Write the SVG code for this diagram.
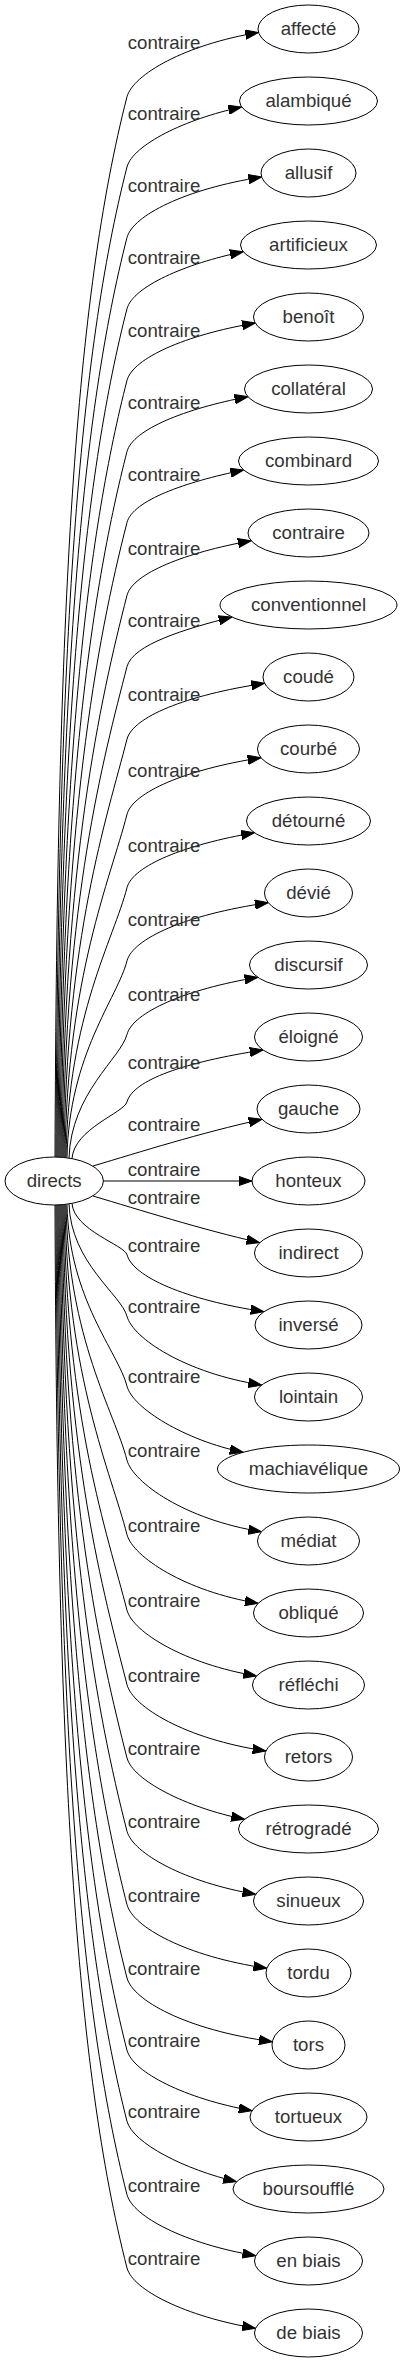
<svg xmlns="http://www.w3.org/2000/svg" width="404" height="2363" viewBox="0 0 404 2363">
<style>
.n ellipse{fill:#fff;stroke:#000;stroke-width:1}
text{font-family:"Liberation Sans",Arial,sans-serif;font-size:18.67px;fill:#333;text-anchor:middle}
#edges path{fill:none;stroke:#000;stroke-width:1;marker-end:url(#ah)}
</style>
<defs>
<marker id="ah" markerUnits="userSpaceOnUse" viewBox="0 -5 14 10" markerWidth="14" markerHeight="10" refX="13.3" refY="0" orient="auto">
<path d="M0,-4.67 L13.3,0 L0,4.67 Z" fill="#000" stroke="#000" stroke-width="1"/>
</marker>
</defs>
<rect width="404" height="2363" fill="#fff"/>
<g id="edges">
<path d="M55,1157.5 C57,600.6 75.4,298.3 127,96.7 C133,74.7 185,44.5 258.5,32.5"/>
<path d="M56,1157.5 C58,637.4 78.9,355.1 127,166.9 C133,144.9 185,119 241.7,107"/>
<path d="M57,1157.5 C59,674.5 82.3,412.3 127,237.5 C133,215.5 185,189 261.7,177"/>
<path d="M58,1157.5 C60,711.9 85.7,470 127,308.7 C133,286.7 185,263.7 243.2,251.7"/>
<path d="M59,1157.5 C61,749.5 89.2,528 127,380.3 C133,358.3 185,335 255.3,323"/>
<path d="M60,1157.5 C62,786.8 92.7,585.6 127,451.5 C133,429.5 185,408.7 247.9,396.7"/>
<path d="M61,1157.5 C63,824.1 96.1,643.1 127,522.4 C133,500.4 185,482 243.6,470"/>
<path d="M62,1157.5 C64,862.3 99.7,702.1 127,595.3 C133,573.3 185,552.7 251.2,540.7"/>
<path d="M63,1157.5 C65,899.7 103.1,759.8 127,666.5 C133,644.5 185,629 231.9,617"/>
<path d="M64,1157.5 C66,937.8 106.7,818.6 127,739.1 C133,717.1 185,695.3 264.6,683.3"/>
<path d="M65,1157.5 C67,977.3 110.3,879.5 127,814.3 C133,792.3 185,769.7 261,757.7"/>
<path d="M66,1157.5 C68,1015.8 113.9,938.9 127,887.6 C133,865.6 185,844.7 254.4,832.7"/>
<path d="M67,1157.5 C69,1054.2 117.4,998.2 127,960.8 C133,938.8 185,914.7 268.2,902.7"/>
<path d="M69,1158 C71,1093.1 121,1057.9 127,1034.4 C133,1012.4 185,989.3 257.8,977.3"/>
<path d="M72,1158.6 C74,1128.8 124.2,1112.7 127,1101.9 C133,1079.9 185,1062 263.1,1050"/>
<path d="M93,1166 C140,1152 200,1133 262,1119.3"/>
<path d="M103.4,1181 L252,1181"/>
<path d="M93,1196 C140,1210 200,1229 259.7,1242.7"/>
<path d="M72,1203.4 C74,1230.3 124.5,1245 127,1254.7 C133,1276.7 185,1299.7 264,1311.7"/>
<path d="M69,1204 C71,1263 121.5,1295 127,1316.3 C133,1338.3 185,1373 261.7,1385"/>
<path d="M67,1204.5 C69,1299.9 118.2,1351.8 127,1386.3 C133,1408.3 185,1440.3 243.1,1452.3"/>
<path d="M66,1204.5 C68,1338.8 114.6,1411.7 127,1460.3 C133,1482.3 185,1519.7 261.5,1531.7"/>
<path d="M65,1204.5 C67,1377.9 111,1472 127,1534.7 C133,1556.7 185,1591.3 258.2,1603.3"/>
<path d="M64,1204.5 C66,1417.5 107.3,1533.2 127,1610.3 C133,1632.3 185,1664 256.6,1676"/>
<path d="M63,1204.5 C65,1456.6 103.7,1593.5 127,1684.7 C133,1706.7 185,1739 265.9,1751"/>
<path d="M62,1204.5 C64,1495.1 100.1,1652.8 127,1758 C133,1780 185,1807.3 244.5,1819.3"/>
<path d="M61,1204.5 C63,1533.6 96.5,1712.2 127,1831.3 C133,1853.3 185,1882.3 255.7,1894.3"/>
<path d="M60,1204.5 C62,1572.1 93,1771.7 127,1904.7 C133,1926.7 185,1956.3 266.8,1968.3"/>
<path d="M59,1204.5 C61,1610.6 89.4,1831 127,1978 C133,2000 185,2029.7 272.3,2041.7"/>
<path d="M58,1204.5 C60,1648.5 85.9,1889.6 127,2050.3 C133,2072.3 185,2098.7 252,2110.7"/>
<path d="M57,1204.5 C59,1685.8 82.4,1947.1 127,2121.3 C133,2143.3 185,2169.7 236.6,2181.7"/>
<path d="M56,1204.5 C58,1724.4 78.9,2006.6 127,2194.7 C133,2216.7 185,2243.7 255.8,2255.7"/>
<path d="M55,1204.5 C57,1762.8 75.3,2065.9 127,2268 C133,2290 185,2316.3 255.5,2328.3"/>
</g>
<g id="edge-labels">
<text x="164" y="48.7">contraire</text>
<text x="164" y="120">contraire</text>
<text x="164" y="191.7">contraire</text>
<text x="164" y="264">contraire</text>
<text x="164" y="336.7">contraire</text>
<text x="164" y="409">contraire</text>
<text x="164" y="481">contraire</text>
<text x="164" y="555">contraire</text>
<text x="164" y="627.3">contraire</text>
<text x="164" y="701">contraire</text>
<text x="164" y="777.3">contraire</text>
<text x="164" y="851.7">contraire</text>
<text x="164" y="926">contraire</text>
<text x="164" y="1000.7">contraire</text>
<text x="164" y="1069.3">contraire</text>
<text x="164" y="1131">contraire</text>
<text x="164" y="1176">contraire</text>
<text x="164" y="1204">contraire</text>
<text x="164" y="1251.7">contraire</text>
<text x="164" y="1313.3">contraire</text>
<text x="164" y="1383.3">contraire</text>
<text x="164" y="1457.3">contraire</text>
<text x="164" y="1531.7">contraire</text>
<text x="164" y="1607.3">contraire</text>
<text x="164" y="1681.7">contraire</text>
<text x="164" y="1755">contraire</text>
<text x="164" y="1828.3">contraire</text>
<text x="164" y="1901.7">contraire</text>
<text x="164" y="1975">contraire</text>
<text x="164" y="2047.3">contraire</text>
<text x="164" y="2118.3">contraire</text>
<text x="164" y="2191.7">contraire</text>
<text x="164" y="2265">contraire</text>
</g>
<g id="directs" class="n"><ellipse cx="54.2" cy="1181" rx="49.2" ry="24"/><text x="54.2" y="1186.6">directs</text></g>
<g id="affecte" class="n"><ellipse cx="308.5" cy="29" rx="50.5" ry="24"/><text x="308.5" y="34.6">affecté</text></g>
<g id="alambique" class="n"><ellipse cx="308.5" cy="101" rx="69" ry="24"/><text x="308.5" y="106.6">alambiqué</text></g>
<g id="allusif" class="n"><ellipse cx="308.5" cy="173" rx="47.5" ry="24"/><text x="308.5" y="178.6">allusif</text></g>
<g id="artificieux" class="n"><ellipse cx="308.5" cy="245" rx="68" ry="24"/><text x="308.5" y="250.6">artificieux</text></g>
<g id="benoit" class="n"><ellipse cx="308.5" cy="317" rx="55" ry="24"/><text x="308.5" y="322.6">benoît</text></g>
<g id="collateral" class="n"><ellipse cx="308.5" cy="389" rx="64" ry="24"/><text x="308.5" y="394.6">collatéral</text></g>
<g id="combinard" class="n"><ellipse cx="308.5" cy="461" rx="70" ry="24"/><text x="308.5" y="466.6">combinard</text></g>
<g id="contraire" class="n"><ellipse cx="308.5" cy="533" rx="60.5" ry="24"/><text x="308.5" y="538.6">contraire</text></g>
<g id="conventionnel" class="n"><ellipse cx="308.5" cy="605" rx="88.5" ry="24"/><text x="308.5" y="610.6">conventionnel</text></g>
<g id="coude" class="n"><ellipse cx="308.5" cy="677" rx="45.5" ry="24"/><text x="308.5" y="682.6">coudé</text></g>
<g id="courbe" class="n"><ellipse cx="308.5" cy="749" rx="51" ry="24"/><text x="308.5" y="754.6">courbé</text></g>
<g id="detourne" class="n"><ellipse cx="308.5" cy="821" rx="62" ry="24"/><text x="308.5" y="826.6">détourné</text></g>
<g id="devie" class="n"><ellipse cx="308.5" cy="893" rx="44" ry="24"/><text x="308.5" y="898.6">dévié</text></g>
<g id="discursif" class="n"><ellipse cx="308.5" cy="965" rx="59" ry="24"/><text x="308.5" y="970.6">discursif</text></g>
<g id="eloigne" class="n"><ellipse cx="308.5" cy="1037" rx="54" ry="24"/><text x="308.5" y="1042.6">éloigné</text></g>
<g id="gauche" class="n"><ellipse cx="308.5" cy="1109" rx="51.5" ry="24"/><text x="308.5" y="1114.6">gauche</text></g>
<g id="honteux" class="n"><ellipse cx="308.5" cy="1181" rx="56.5" ry="24"/><text x="308.5" y="1186.6">honteux</text></g>
<g id="indirect" class="n"><ellipse cx="308.5" cy="1253" rx="54" ry="24"/><text x="308.5" y="1258.6">indirect</text></g>
<g id="inverse" class="n"><ellipse cx="308.5" cy="1325" rx="53.5" ry="24"/><text x="308.5" y="1330.6">inversé</text></g>
<g id="lointain" class="n"><ellipse cx="308.5" cy="1397" rx="54" ry="24"/><text x="308.5" y="1402.6">lointain</text></g>
<g id="machiavelique" class="n"><ellipse cx="308.5" cy="1469" rx="91" ry="24"/><text x="308.5" y="1474.6">machiavélique</text></g>
<g id="mediat" class="n"><ellipse cx="308.5" cy="1541" rx="51" ry="24"/><text x="308.5" y="1546.6">médiat</text></g>
<g id="oblique" class="n"><ellipse cx="308.5" cy="1613" rx="55" ry="24"/><text x="308.5" y="1618.6">obliqué</text></g>
<g id="reflechi" class="n"><ellipse cx="308.5" cy="1685" rx="56" ry="24"/><text x="308.5" y="1690.6">réfléchi</text></g>
<g id="retors" class="n"><ellipse cx="308.5" cy="1757" rx="44" ry="24"/><text x="308.5" y="1762.6">retors</text></g>
<g id="retrograde" class="n"><ellipse cx="308.5" cy="1829" rx="70" ry="24"/><text x="308.5" y="1834.6">rétrogradé</text></g>
<g id="sinueux" class="n"><ellipse cx="308.5" cy="1901" rx="55" ry="24"/><text x="308.5" y="1906.6">sinueux</text></g>
<g id="tordu" class="n"><ellipse cx="308.5" cy="1973" rx="42.5" ry="24"/><text x="308.5" y="1978.6">tordu</text></g>
<g id="tors" class="n"><ellipse cx="308.5" cy="2045" rx="36.5" ry="24"/><text x="308.5" y="2050.6">tors</text></g>
<g id="tortueux" class="n"><ellipse cx="308.5" cy="2117" rx="58.5" ry="24"/><text x="308.5" y="2122.6">tortueux</text></g>
<g id="boursouffle" class="n"><ellipse cx="308.5" cy="2189" rx="75.5" ry="24"/><text x="308.5" y="2194.6">boursoufflé</text></g>
<g id="en-biais" class="n"><ellipse cx="308.5" cy="2261" rx="54" ry="24"/><text x="308.5" y="2266.6">en biais</text></g>
<g id="de-biais" class="n"><ellipse cx="308.5" cy="2333" rx="54" ry="24"/><text x="308.5" y="2338.6">de biais</text></g>
</svg>
